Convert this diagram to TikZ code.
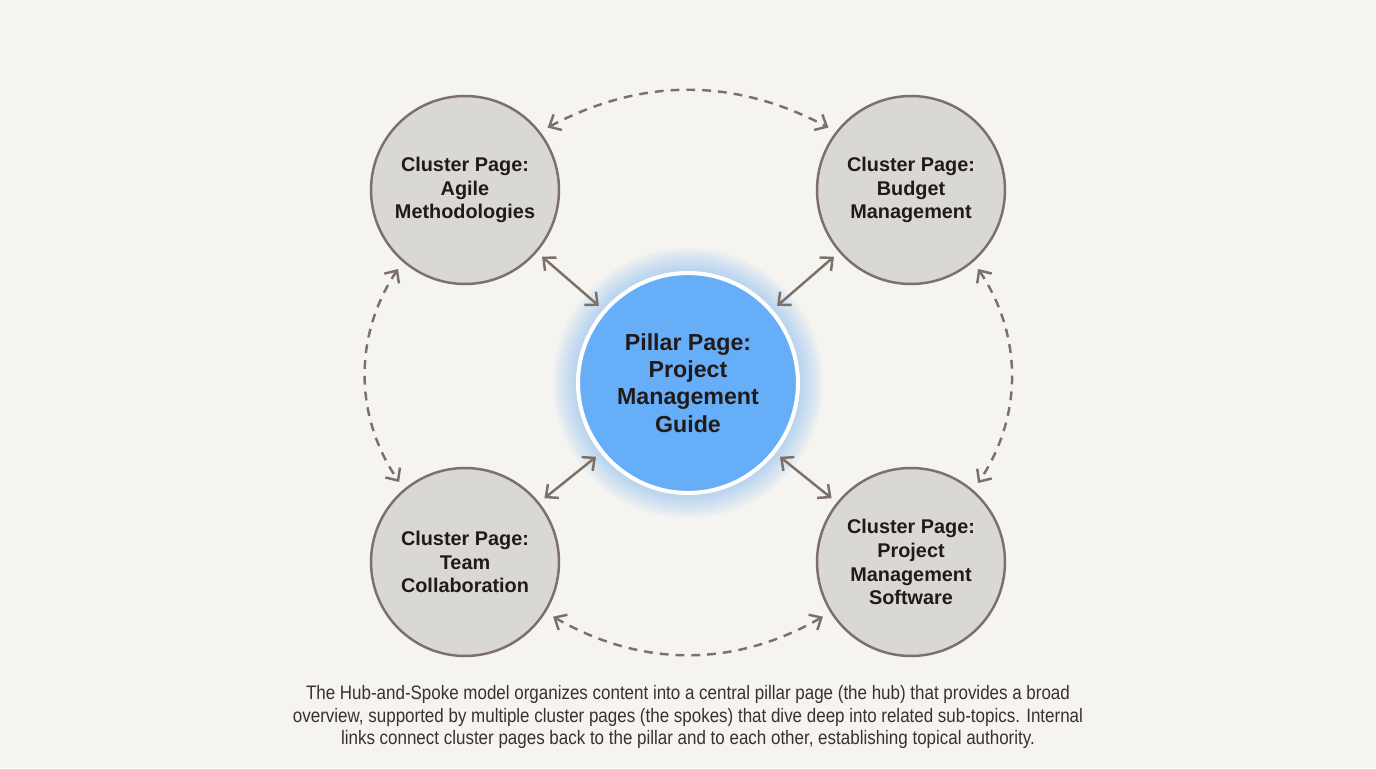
\documentclass[tikz,border=0pt]{standalone}
\usepackage{fontspec}
\setmainfont{Liberation Sans}
\newfontfamily\notefont[FakeStretch=0.87]{Liberation Sans}
\usetikzlibrary{arrows.meta}
\definecolor{paperbg}{HTML}{F5F4F0}
\definecolor{clustergray}{HTML}{DAD8D5}
\definecolor{linkbrown}{HTML}{7D7068}
\definecolor{pillarblue}{HTML}{66AEF7}
\definecolor{inkdark}{HTML}{221A18}

\begin{document}
\begin{tikzpicture}[x=0.02cm, y=0.02cm,
    cluster/.style={circle, draw=linkbrown, line width=1.4pt, fill=clustergray,
      minimum size=3.76cm, inner sep=0pt, outer sep=0pt, align=center,
      text=inkdark, font=\fontsize{11.3}{13.6}\selectfont\bfseries},
    pillar/.style={circle, draw=white, line width=2.3pt, fill=pillarblue,
      minimum size=4.4cm, inner sep=0pt, outer sep=0pt, align=center,
      text=inkdark, font=\fontsize{13.2}{15.6}\selectfont\bfseries},
    spoke/.style={linkbrown, line width=1.4pt,
      {Straight Barb[length=5.5pt,width=10pt]}-{Straight Barb[length=5.5pt,width=10pt]},
      shorten <=4.5pt, shorten >=4.5pt},
    link/.style={spoke, dash pattern=on 5pt off 4pt, shorten <=5.5pt, shorten >=5.5pt}]
  % Paper
  \fill[paperbg] (0,0) rectangle (1376,768);
  \useasboundingbox (0,0) rectangle (1376,768);

  % Glow round the pillar
  \foreach \g in {1,...,10}
    \fill[pillarblue, opacity=0.05] (688,385) circle [radius={2.2cm+\g*0.05cm}];

  % Pillar and clusters
  \node[pillar] (pillar) at (688,385) {Pillar Page:\\Project\\Management\\Guide};
  \node[cluster] (agile) at (465,578) {Cluster Page:\\Agile\\Methodologies};
  \node[cluster] (budget) at (911,578) {Cluster Page:\\Budget\\Management};
  \node[cluster] (team) at (465,206) {Cluster Page:\\Team\\Collaboration};
  \node[cluster] (software) at (911,206) {Cluster Page:\\Project\\Management\\Software};

  % Spokes
  \draw[spoke] (agile) -- (pillar);
  \draw[spoke] (budget) -- (pillar);
  \draw[spoke] (team) -- (pillar);
  \draw[spoke] (software) -- (pillar);

  % Links between clusters
  \draw[link] (agile.38) to[bend left=28] (budget.142);
  \draw[link] (agile.229) to[bend right=34] (team.130);
  \draw[link] (budget.311) to[bend left=34] (software.49);
  \draw[link] (team.328) to[bend right=30] (software.212);

  % Caption
  \node[align=center, text=inkdark!90, font=\notefont\fontsize{11.1}{12.75}\selectfont] (note) at (688,51)
    {The Hub-and-Spoke model organizes content into a central pillar page (the hub) that provides a broad\\
     overview, supported by multiple cluster pages (the spokes) that dive deep into related sub-topics. Internal\\
     links connect cluster pages back to the pillar and to each other, establishing topical authority.};
\end{tikzpicture}
\end{document}
